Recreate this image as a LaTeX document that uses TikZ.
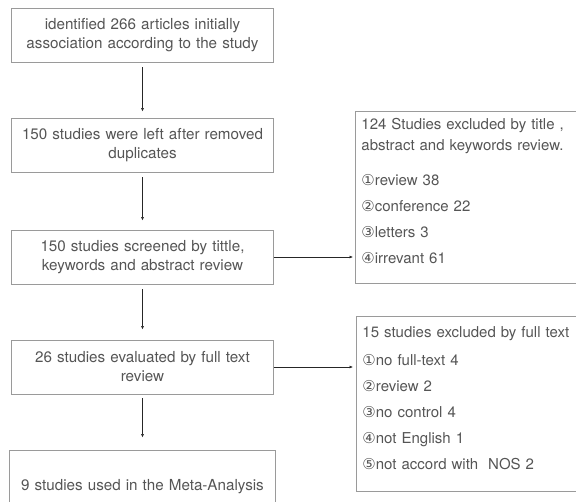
\documentclass[tikz,border=0pt]{standalone}
\usepackage{fontspec}
\setmainfont{TeX Gyre Heros}
\newfontfamily\circfont{DejaVu Sans}
\usetikzlibrary{shapes}
\usetikzlibrary{arrows.meta}
\usetikzlibrary{positioning}
\definecolor{boxgray}{HTML}{9A9A9A}
\definecolor{txtgray}{HTML}{555555}
\newcommand{\cnum}[1]{{\circfont\fontsize{15}{15}\selectfont #1}}

\begin{document}
\begin{tikzpicture}[x=1pt,y=-1pt,node distance=110pt]
\useasboundingbox (0,0) rectangle (576,501);
\clip (0,0) rectangle (576,501);
\tikzstyle{line}=[draw] % here

% Define the stage style for the main column
\tikzstyle{stage}=[rectangle,minimum width=259pt,minimum height=54pt,text width=255pt,align=center,draw=boxgray,line width=0.9pt,text=txtgray,font=\fontsize{15.2}{19}\selectfont]

% Define the excl style for the excluded boxes
\tikzstyle{excl}=[rectangle,anchor=north west,minimum width=240pt,text width=228pt,align=left,inner xsep=5pt,inner ysep=4pt,draw=boxgray,line width=0.9pt,text=txtgray,font=\fontsize{15}{26}\selectfont]

% Define the arrow style
\tikzstyle{arrow}=[draw=black!85,line width=0.6pt,-{Latex[length=3.5pt,width=3pt]}]

% define the nodes in the flowchart
\node (ident) [stage] at (142.5,35) {identified 266 articles initially\\association according to the study};
\node (dupl) [stage, below of=ident] {150 studies were left after removed\\duplicates};
\node (screen) [stage, below of=dupl, yshift=-2pt] {150 studies screened by tittle,\\keywords and abstract review};
\node (full) [stage, below of=screen] {26 studies evaluated by full text\\review};
\node (meta) [stage, below of=full, yshift=-10pt, minimum width=266pt, minimum height=74pt] {9 studies used in the Meta-Analysis};

\node (excla) [excl, text height=14pt, text depth=150pt] at (355,111) {124 Studies excluded by title ,\\[-5pt]abstract and keywords review.\\[9pt]\cnum{①}review 38\\\cnum{②}conference 22\\\cnum{③}letters 3\\\cnum{④}irrevant 61};
\node (exclb) [excl, text height=17pt, text depth=150pt] at (356,316) {15 studies excluded by full text\\[2pt]\cnum{①}no full-text 4\\\cnum{②}review 2\\\cnum{③}no control 4\\\cnum{④}not English 1\\\cnum{⑤}not accord with\ \ NOS 2};

% define the arrows between the nodes
\draw[arrow, shorten <=5pt, shorten >=6pt] (ident) -- (dupl);
\draw[arrow, shorten <=5pt, shorten >=9pt] (dupl) -- (screen);
\draw[arrow, shorten <=5pt, shorten >=10pt] (screen) -- (full);
\draw[arrow, shorten <=4pt, shorten >=12pt] (full) -- (meta);
\draw[arrow, shorten >=2pt] (screen.east) -- (screen.east -| excla.west);
\draw[arrow, shorten >=3pt] (full.east) -- (full.east -| exclb.west);

\end{tikzpicture}
\end{document}
